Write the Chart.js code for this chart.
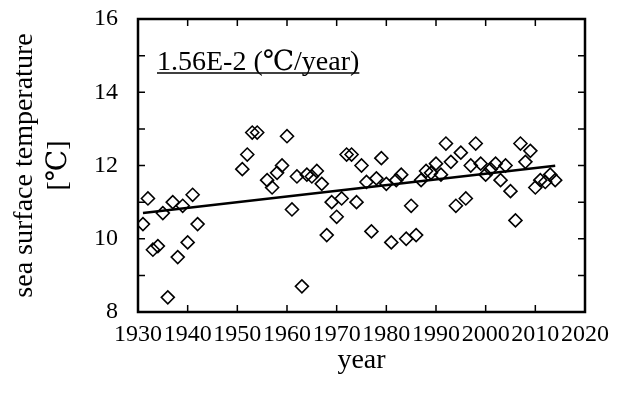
<!DOCTYPE html>
<html>
<head>
<meta charset="utf-8">
<script src="https://cdn.jsdelivr.net/npm/chart.js@4"></script>
<style>
  html, body { margin: 0; padding: 0; background: #fff; }
  canvas { display: block; }
</style>
</head>
<body>
<canvas id="sstChart" width="626" height="394"></canvas>
<script>
// yearly sea surface temperature (℃)
const years = [
  1931, 1932, 1933, 1934, 1935, 1936, 1937, 1938, 1939, 1940, 1941, 1942,
  1951, 1952, 1953, 1954, 1956, 1957, 1958, 1959, 1960,
  1961, 1962, 1963, 1964, 1965, 1966, 1967, 1968, 1969, 1970,
  1971, 1972, 1973, 1974, 1975, 1976, 1977, 1978, 1979, 1980,
  1981, 1982, 1983, 1984, 1985, 1986, 1987, 1988, 1989, 1990,
  1991, 1992, 1993, 1994, 1995, 1996, 1997, 1998, 1999, 2000,
  2001, 2002, 2003, 2004, 2005, 2006, 2007, 2008, 2009, 2010,
  2011, 2012, 2013, 2014
];
const sst = [
  10.4, 11.1, 9.7, 9.8, 10.7, 8.4, 11.0, 9.5, 10.9, 9.9, 11.2, 10.4,
  11.9, 12.3, 12.9, 12.9, 11.6, 11.4, 11.8, 12.0, 12.8,
  10.8, 11.7, 8.7, 11.75, 11.7, 11.85, 11.5, 10.1, 11.0, 10.6,
  11.1, 12.3, 12.3, 11.0, 12.0, 11.55, 10.2, 11.65, 12.2, 11.5,
  9.9, 11.6, 11.75, 10.0, 10.9, 10.1, 11.6, 11.85, 11.8, 12.05,
  11.75, 12.6, 12.1, 10.9, 12.35, 11.1, 12.0, 12.6, 12.05, 11.75,
  11.9, 12.05, 11.6, 12.0, 11.3, 10.5, 12.6, 12.1, 12.4, 11.4,
  11.6, 11.55, 11.75, 11.6
];

// linear trend
const trendSlope = 1.56e-2;   // ℃ per year
const trendStart = 10.7;      // trend value at the first year

const xTicks = [1930, 1940, 1950, 1960, 1970, 1980, 1990, 2000, 2010, 2020];
const yTicks = [8, 10, 12, 14, 16];
const yMinorTicks = [8, 9, 10, 11, 12, 13, 14, 15, 16];

const serif = '"Liberation Serif", "Times New Roman", "DejaVu Serif", serif';
Chart.defaults.font.family = serif;
Chart.defaults.color = '#000';

const firstYear = years[0];
const lastYear = years[years.length - 1];
const trendLine = [
  { x: firstYear, y: trendStart },
  { x: lastYear, y: trendStart + trendSlope * (lastYear - firstYear) }
];

// frame, inward tick marks and the slope note
const framePlugin = {
  id: 'frame',
  afterDraw(chart) {
    const { ctx, chartArea: a, scales: { x, y } } = chart;
    ctx.save();
    ctx.strokeStyle = '#000';
    ctx.lineWidth = 1.5;
    ctx.beginPath();
    xTicks.forEach(v => {
      const px = x.getPixelForValue(v);
      ctx.moveTo(px, a.bottom); ctx.lineTo(px, a.bottom - 7);
      ctx.moveTo(px, a.top); ctx.lineTo(px, a.top + 7);
    });
    yMinorTicks.forEach(v => {
      const py = y.getPixelForValue(v);
      ctx.moveTo(a.left, py); ctx.lineTo(a.left + 7, py);
      ctx.moveTo(a.right, py); ctx.lineTo(a.right - 7, py);
    });
    ctx.stroke();
    ctx.lineWidth = 2.5;
    ctx.strokeRect(a.left, a.top, a.right - a.left, a.bottom - a.top);

    const note = (trendSlope * 100).toFixed(2) + 'E-2 (℃/year)';
    ctx.font = '28px ' + serif;
    ctx.fillStyle = '#000';
    ctx.textBaseline = 'alphabetic';
    const tx = a.left + 19, ty = a.top + 51;
    ctx.fillText(note, tx, ty);
    const w = ctx.measureText(note).width;
    ctx.lineWidth = 1.5;
    ctx.beginPath();
    ctx.moveTo(tx, ty + 3); ctx.lineTo(tx + w, ty + 3);
    ctx.stroke();
    ctx.restore();
  }
};

new Chart(document.getElementById('sstChart'), {
  type: 'scatter',
  data: {
    datasets: [
      {
        label: 'SST',
        data: years.map((yr, i) => ({ x: yr, y: sst[i] })),
        pointStyle: 'rectRot',
        pointRadius: 6.5,
        pointBorderWidth: 1.6,
        pointBorderColor: '#000',
        pointBackgroundColor: 'rgba(0,0,0,0)'
      },
      {
        type: 'line',
        label: 'trend',
        data: trendLine,
        borderColor: '#000',
        borderWidth: 2.5,
        pointRadius: 0,
        fill: false
      }
    ]
  },
  options: {
    responsive: false,
    animation: false,
    devicePixelRatio: 1,
    layout: { padding: { top: 19, right: 41, left: 0, bottom: 0 } },
    plugins: { legend: { display: false }, tooltip: { enabled: false } },
    scales: {
      x: {
        type: 'linear',
        min: 1930,
        max: 2020,
        grid: { display: false, drawTicks: false },
        border: { display: false },
        afterBuildTicks: s => { s.ticks = xTicks.map(v => ({ value: v })); },
        ticks: { font: { size: 24 }, padding: 8, maxRotation: 0, autoSkip: false, callback: v => String(v) },
        title: { display: true, text: 'year', font: { size: 28 }, padding: { top: 0, bottom: 17 } },
        afterFit: s => { s.height = 82; }
      },
      y: {
        min: 8,
        max: 16,
        grid: { display: false, drawTicks: false },
        border: { display: false },
        afterBuildTicks: s => { s.ticks = yTicks.map(v => ({ value: v })); },
        ticks: { font: { size: 24 }, padding: 20, callback: v => String(v) },
        title: {
          display: true,
          text: ['sea surface temperature', '[℃]'],
          font: { size: 28, lineHeight: 1.2 },
          padding: { top: 8, bottom: 0 }
        },
        afterFit: s => {
          s.width = 138;
          s.paddingTop = 0;
          s.paddingBottom = 0;
        }
      }
    }
  },
  plugins: [framePlugin]
});
</script>
</body>
</html>
